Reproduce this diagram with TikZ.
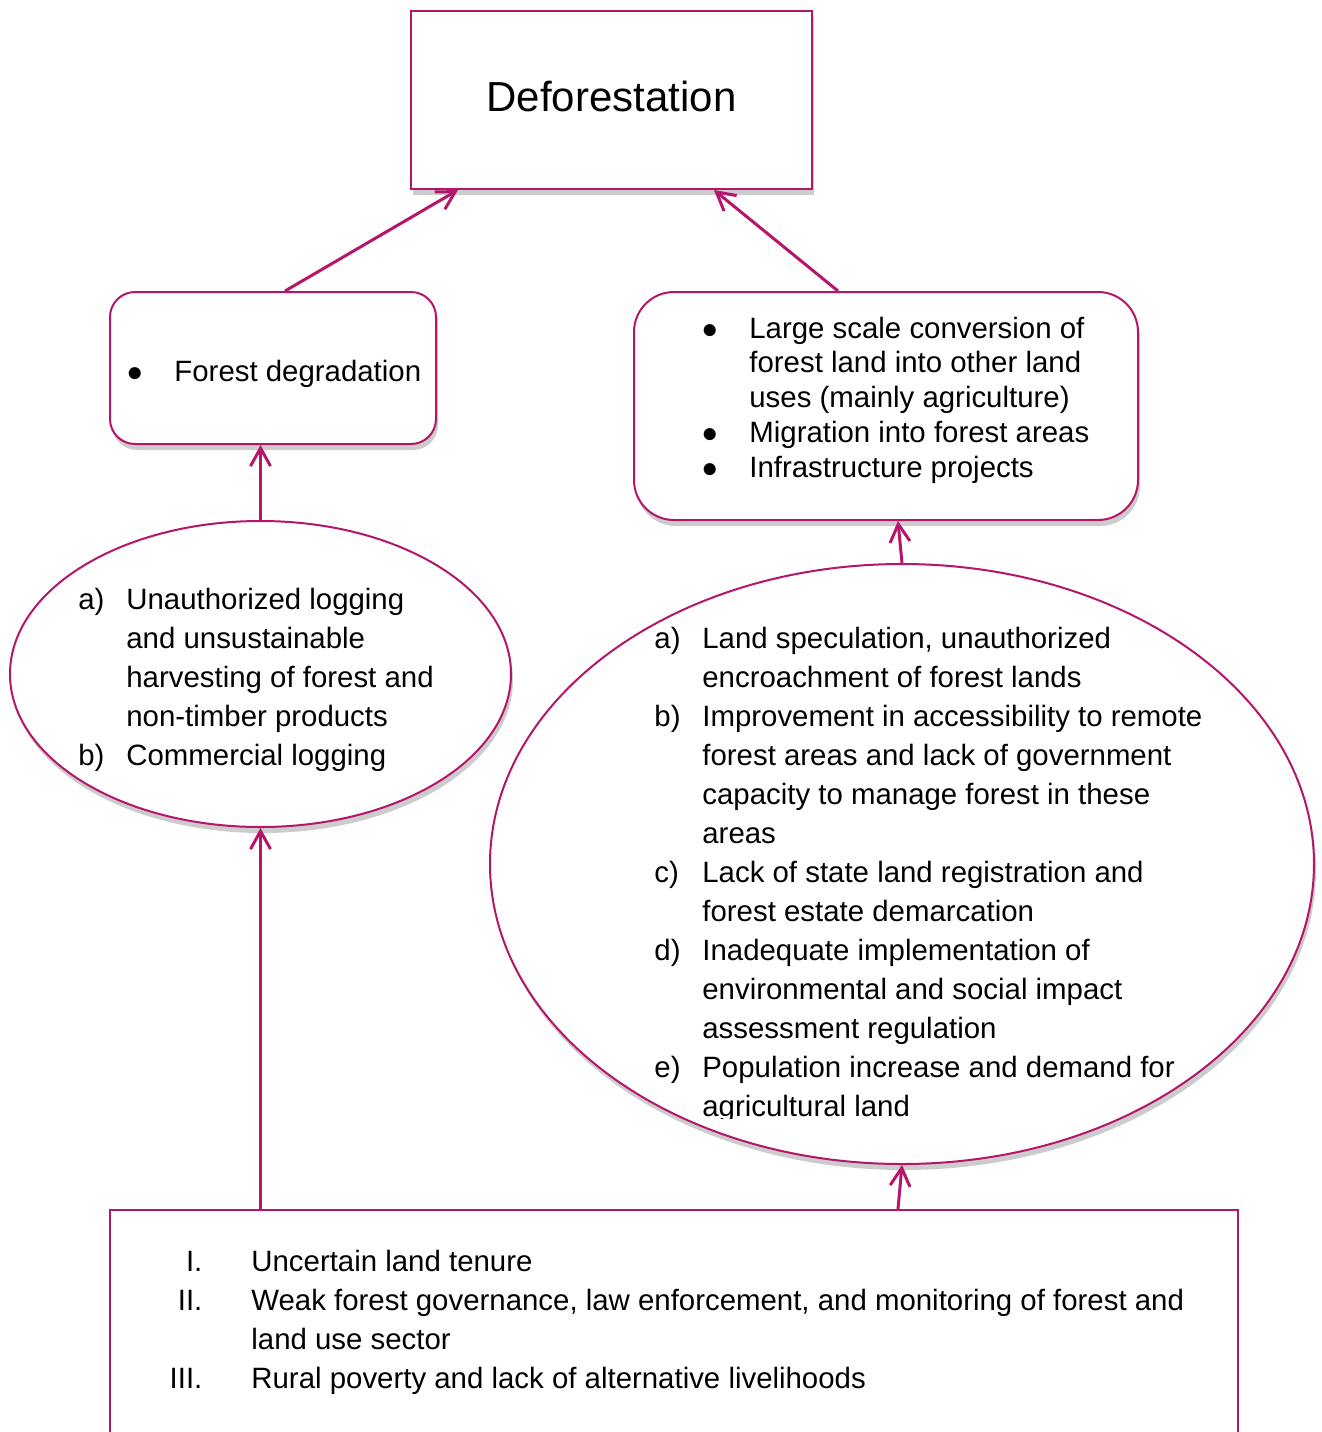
\documentclass[tikz,border=0pt]{standalone}
\usepackage{fontspec}
\setmainfont{Liberation Sans}
\usetikzlibrary{arrows.meta,shapes.geometric,shadows}
\definecolor{berry}{RGB}{181,22,107}
\newcommand{\bigdot}{{\fontsize{14}{14}\selectfont ●}}
\newcommand{\bul}{\makebox[24pt][l]{\bigdot}}
\tikzset{
  lift/.style={fill=white, drop shadow={shadow xshift=1pt,shadow yshift=-3pt,opacity=.4}},
  plainbox/.style={draw=berry, line width=1pt, fill=white, inner sep=0pt},
  roundbox/.style={plainbox, lift, rounded corners=#1},
  oval/.style={ellipse, draw=berry, line width=1pt, lift, inner sep=0pt},
  txt/.style={inner sep=0pt, anchor=base west, font=\fontsize{14.7}{19.5}\selectfont},
  arr/.style={draw=berry, line width=1.5pt, -{Straight Barb[length=9pt,width=10pt]}},
}
\begin{document}
\begin{tikzpicture}[x=0.5pt,y=-0.5pt]
	\clip (0,0) rectangle (1322,1432);
	\node (top) at (611.5,100) [plainbox, lift, minimum width=200.5pt, minimum height=89pt,
		font=\fontsize{21}{25}\selectfont] {\raisebox{4pt}{Deforestation}\hspace{4.5pt}};
	\node (deg) at (273,368) [roundbox=12.5pt, minimum width=163pt, minimum height=76pt] {};
	\node (conv) at (886,406) [roundbox=20pt, minimum width=252pt, minimum height=114pt] {};
	\node (logell) at (260.5,674) [oval, minimum width=250.5pt, minimum height=153pt] {};
	\node (landell) at (902,864) [oval, minimum width=412pt, minimum height=300pt] {};
	\node (causes) at (674,1345) [plainbox, minimum width=564pt, minimum height=135pt] {};
	\node (degtxt) at (126,381) [txt] {\bul Forest degradation};
	\node (convtxt) at (701,338) [txt, font=\fontsize{14.7}{17.4}\selectfont]
		{\begin{tabular}[t]{@{}p{24pt}@{}l@{}}
			\bigdot & Large scale conversion of\\
			& forest land into other land\\
			& uses (mainly agriculture)\\
			\bigdot & Migration into forest areas\\
			\bigdot & Infrastructure projects
		\end{tabular}};
	\node (logtxt) at (78,609) [txt]
		{\begin{tabular}[t]{@{}p{24pt}@{}l@{}}
			a) & Unauthorized logging\\
			& and unsustainable\\
			& harvesting of forest and\\
			& non-timber products\\
			b) & Commercial logging
		\end{tabular}};
	\begin{scope}
		\clip (480,560) rectangle (1320,1118);
		\node (landtxt) at (654,648) [txt]
			{\begin{tabular}[t]{@{}p{24pt}@{}l@{}}
				a) & Land speculation, unauthorized\\
				& encroachment of forest lands\\
				b) & Improvement in accessibility to remote\\
				& forest areas and lack of government\\
				& capacity to manage forest in these\\
				& areas\\
				c) & Lack of state land registration and\\
				& forest estate demarcation\\
				d) & Inadequate implementation of\\
				& environmental and social impact\\
				& assessment regulation\\
				e) & Population increase and demand for\\
				& agricultural land
			\end{tabular}};
	\end{scope}
	\node (causetxt) at (150,1271) [txt]
		{\begin{tabular}[t]{@{}r@{\hspace{24.5pt}}l@{}}
			\makebox[26pt][r]{I.} & Uncertain land tenure\\
			II. & Weak forest governance, law enforcement, and monitoring of forest and\\
			& land use sector\\
			III. & Rural poverty and lack of alternative livelihoods
		\end{tabular}};
	\draw[arr] ([xshift=6pt]deg.north) -- ([xshift=-76.75pt]top.south);
	\draw[arr] ([xshift=-24pt]conv.north) -- ([xshift=51.25pt]top.south);
	\draw[arr] (logell.north) -- (logell.north |- deg.south);
	\draw[arr] (landell.north) -- ([xshift=6pt]conv.south);
	\draw[arr] (logell.south |- causes.north) -- (logell.south);
	\draw[arr] ([xshift=112pt]causes.north) -- (landell.south);
\end{tikzpicture}
\end{document}
